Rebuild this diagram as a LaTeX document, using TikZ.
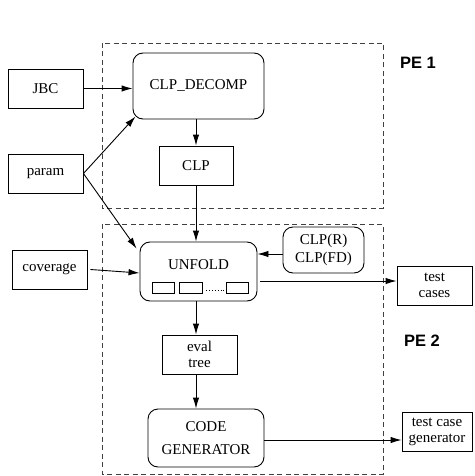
\documentclass[tikz,border=0pt]{standalone}
\usepackage{fontspec}
\setmainfont{Liberation Serif}
\newfontfamily\pefont{Liberation Sans}
\usetikzlibrary{arrows.meta}

\begin{document}
\begin{tikzpicture}[x=1pt,y=-1pt,
  box/.style={draw, line width=0.9pt, inner sep=0pt, align=center,
    font=\fontsize{15}{15.5}\selectfont},
  rbox/.style={box, rounded corners=10pt},
  pe/.style={draw=black!75, line width=0.9pt, dash pattern=on 5pt off 3.5pt},
  arr/.style={line width=0.9pt, -{Latex[length=11pt,width=6.5pt]}},
  pelbl/.style={font=\pefont\bfseries\fontsize{16.5}{18}\selectfont},
  small/.style={draw, line width=0.9pt}]

\useasboundingbox (0,0) rectangle (474,476);

% partial-evaluation stages
\draw[pe] (102,43) rectangle (383,208);
\draw[pe] (102,224) rectangle (383,474);
\node[pelbl] (pe1) at (418,63) {PE 1};
\node[pelbl] (pe2) at (422,341) {PE 2};

% inputs
\node[box, minimum width=75pt, minimum height=39pt] (jbc) at (45.5,88.5) {JBC};
\node[box, minimum width=75pt, minimum height=39pt] (param) at (45.5,173.5) {param};
\node[box, minimum width=75pt, minimum height=39pt] (cov) at (49.5,269.5) {coverage};

% first stage
\node[rbox, minimum width=131pt, minimum height=66pt] (decomp) at (198.5,86) {CLP\_DECOMP};
\node[box, minimum width=74pt, minimum height=39pt] (clp) at (196,165.5) {CLP};

% second stage
\node[rbox, minimum width=117pt, minimum height=59pt] (unfold) at (198.5,271.5) {};
\node[font=\fontsize{15}{16}\selectfont, inner sep=0pt] (unfoldlbl) at (198.5,265) {UNFOLD};
\draw[small] (152,282) rectangle (174,293);
\draw[small] (179,282) rectangle (202,293);
\draw[small] (226,282) rectangle (248,293);
\draw[line width=0.9pt, dotted] (206,290.5) -- (224,290.5);

\node[rbox, minimum width=81pt, minimum height=46pt,
  font=\fontsize{15}{18}\selectfont] (solv) at (323.5,250) {CLP(R)\\CLP(FD)};
\node[box, minimum width=75pt, minimum height=39pt] (eval) at (199.5,354.5) {eval\\tree};
\node[rbox, minimum width=116pt, minimum height=58pt,
  font=\fontsize{15}{23}\selectfont] (codegen) at (206,438) {CODE\\GENERATOR};

% outputs
\node[box, minimum width=75pt, minimum height=39pt] (tc) at (434.5,285.5) {test\\cases};
\node[box, minimum width=70pt, minimum height=39pt,
  font=\fontsize{15}{16}\selectfont] (tcg) at (437,431.5) {test case\\generator};

% connectors
\draw[arr] (jbc.east) -- (jbc.east -| decomp.west);
\coordinate (dcorner) at ([shift={(2.9pt,2.9pt)}]decomp.south west);
\draw[arr] (param.east) -- (dcorner);
\coordinate (ucorner) at ([shift={(-3pt,-7pt)}]unfold.north west);
\draw[arr] (param.east) -- (ucorner);
\draw[arr] (decomp.south -| clp.north) -- (clp.north);
\draw[arr] (clp.south) -- (clp.south |- unfold.north);
\draw[arr] ([xshift=3pt]cov.east) -- ([yshift=-1.5pt]unfold.west);
\draw[arr] (solv.west |- 0,254) -- (unfold.east |- 0,254);
\coordinate (uout) at ([shift={(3pt,-9.5pt)}]unfold.east);
\draw[arr] (uout) -- (uout -| tc.west);
\draw[arr] (unfold.south -| clp.south) -- (clp.south |- eval.north);
\draw[arr] (clp.south |- eval.south) -- (clp.south |- codegen.north);
\draw[arr] ([yshift=-2pt]codegen.east) -- ([yshift=-2pt]codegen.east -| tcg.west);
\end{tikzpicture}
\end{document}
